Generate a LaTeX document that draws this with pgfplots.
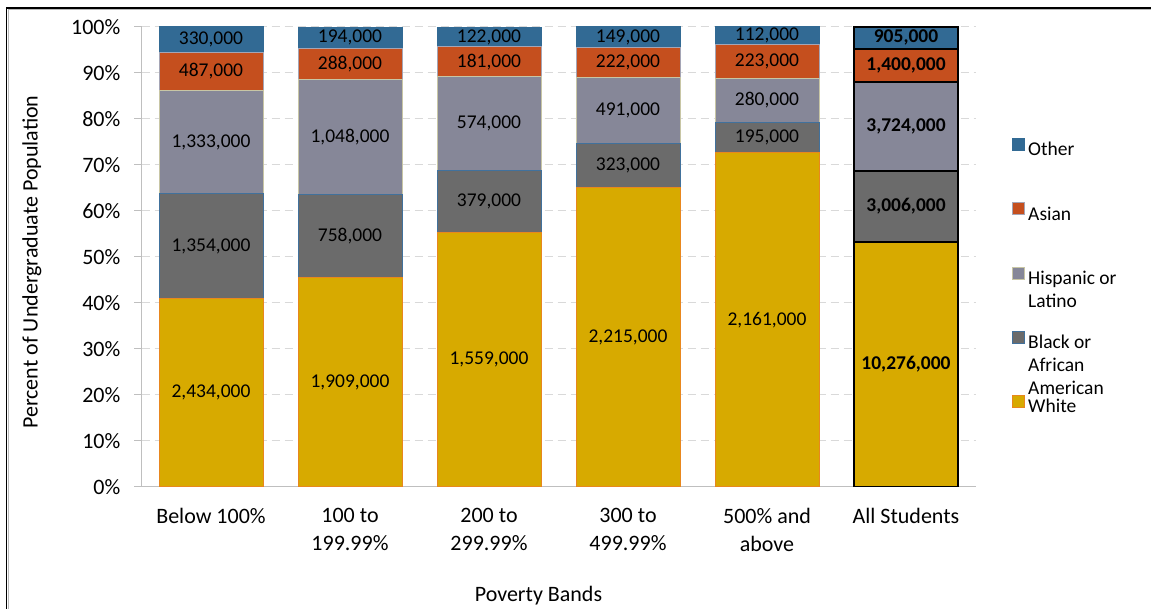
\documentclass[border=0pt]{standalone}
\usepackage{pgfplots}
\pgfplotsset{compat=1.18}
\usepackage{pgfplotstable}
\usepackage{fontspec}
\setmainfont{Carlito}

\definecolor{cW}{RGB}{215,170,0}
\definecolor{cWe}{RGB}{232,135,30}
\definecolor{cB}{RGB}{107,107,107}
\definecolor{cBe}{RGB}{65,113,156}
\definecolor{cH}{RGB}{134,135,152}
\definecolor{cHe}{RGB}{200,198,165}
\definecolor{cA}{RGB}{197,79,30}
\definecolor{cAe}{RGB}{165,165,181}
\definecolor{cO}{RGB}{50,106,148}
\definecolor{axgray}{RGB}{191,191,191}
\definecolor{gridgray}{RGB}{217,217,217}

% percent of each band, label = head count
\pgfplotstableread{
x White Black Hisp Asian Other WL BL HL AL OL
0 40.99 22.80 22.45 8.20 5.56 2,434,000 1,354,000 1,333,000 487,000 330,000
1 45.48 18.06 24.97 6.86 4.62 1,909,000 758,000 1,048,000 288,000 194,000
2 55.38 13.46 20.39 6.43 4.33 1,559,000 379,000 574,000 181,000 122,000
3 65.15 9.50 14.44 6.53 4.38 2,215,000 323,000 491,000 222,000 149,000
4 72.74 6.56 9.42 7.51 3.77 2,161,000 195,000 280,000 223,000 112,000
}\bands

\pgfplotstableread{
x White Black Hisp Asian Other WL BL HL AL OL
5 53.21 15.57 19.28 7.25 4.69 10,276,000 3,006,000 3,724,000 1,400,000 905,000
}\allstud

\newcommand{\lbl}{\fontsize{19.5}{23}\selectfont}
\newcommand{\axfont}{\fontsize{22}{28}\selectfont}
\newcommand{\legtext}[1]{\smash{\raisebox{-6pt}{\parbox[t]{120pt}{\raggedright #1}}}}

\pgfplotsset{
  base/.style={
    ybar stacked, bar width=104pt,
    scale only axis, width=834pt, height=460pt,
    xmin=-0.5, xmax=5.5, ymin=0, ymax=100,
    at={(141.5pt,122pt)}, anchor=south west,
    point meta=explicit symbolic,
    nodes near coords,
    nodes near coords style={font=\lbl, anchor=center, text=black, inner sep=0pt},
  },
  sq/.style={legend image code/.code={\draw[##1] (0pt,0pt) rectangle (12pt,12pt);}},
}

\begin{document}
\begin{tikzpicture}
\useasboundingbox (0,0) rectangle (1151pt,609pt);

\begin{axis}[
    base,
    axis x line*=bottom, axis y line*=left,
    axis line style={draw=axgray, line width=1pt},
    ytick={0,10,...,100},
    yticklabels={0\%,10\%,20\%,30\%,40\%,50\%,60\%,70\%,80\%,90\%,100\%},
    xtick={0,1,2,3,4,5},
    xticklabels={Below 100\%,100 to\\199.99\%,200 to\\299.99\%,300 to\\499.99\%,500\% and\\above,All Students},
    ticklabel style={font=\axfont},
    xticklabel style={align=center, anchor=north, inner sep=0pt, yshift=-14pt},
    yticklabel style={anchor=east, inner sep=0pt, xshift=-14pt},
    tick align=outside, major tick length=7pt,
    y tick style={draw=axgray, line width=1pt},
    x tick style={draw=none},
    ymajorgrids, grid style={draw=gridgray, line width=1pt, dash pattern=on 8pt off 5pt},
    xlabel={Poverty Bands}, ylabel={Percent of Undergraduate Population},
    every axis x label/.style={at={(axis description cs:0.476,-0.237)}, anchor=center, font=\axfont},
    every axis y label/.style={at={(axis description cs:-0.1313,0.489)}, anchor=center, rotate=90, font=\axfont},
    reverse legend,
    legend cell align=left,
    legend style={at={(axis description cs:1.0402,0.7630)}, anchor=north west,
      draw=none, fill=none, font=\lbl, row sep=49pt, column sep=1pt,
      nodes={inner sep=2pt}},
]
\addplot[fill=cW, draw=cWe, line width=1pt, sq] table[x=x, y=White, meta=WL] {\bands};
\addlegendentry{\legtext{White}}
\addplot[fill=cB, draw=cBe, line width=1pt, sq] table[x=x, y=Black, meta=BL] {\bands};
\addlegendentry{\legtext{Black or\\African\\American}}
\addplot[fill=cH, draw=cHe, line width=1pt, sq] table[x=x, y=Hisp, meta=HL] {\bands};
\addlegendentry{\legtext{Hispanic or\\Latino}}
\addplot[fill=cA, draw=cAe, line width=1pt, sq] table[x=x, y=Asian, meta=AL] {\bands};
\addlegendentry{\legtext{Asian}}
\addplot[fill=cO, draw=cO, line width=1pt, sq] table[x=x, y=Other, meta=OL] {\bands};
\addlegendentry{\legtext{Other}}
\end{axis}

% All Students bar, outlined in black
\begin{axis}[
    base, hide axis,
    nodes near coords style={font=\lbl\bfseries},
]
\addplot[fill=cW, draw=black, line width=2pt] table[x=x, y=White, meta=WL] {\allstud};
\addplot[fill=cB, draw=black, line width=2pt] table[x=x, y=Black, meta=BL] {\allstud};
\addplot[fill=cH, draw=black, line width=2pt] table[x=x, y=Hisp, meta=HL] {\allstud};
\addplot[fill=cA, draw=black, line width=2pt] table[x=x, y=Asian, meta=AL] {\allstud};
\addplot[fill=cO, draw=black, line width=2pt] table[x=x, y=Other, meta=OL] {\allstud};
\end{axis}

\draw[black, line width=1.6pt] (6.5pt,0) -- (6.5pt,601pt) -- (1151pt,601pt);
\draw[gray!55, line width=0.8pt] (8.3pt,0) -- (8.3pt,599.4pt) -- (1151pt,599.4pt);
\end{tikzpicture}
\end{document}
